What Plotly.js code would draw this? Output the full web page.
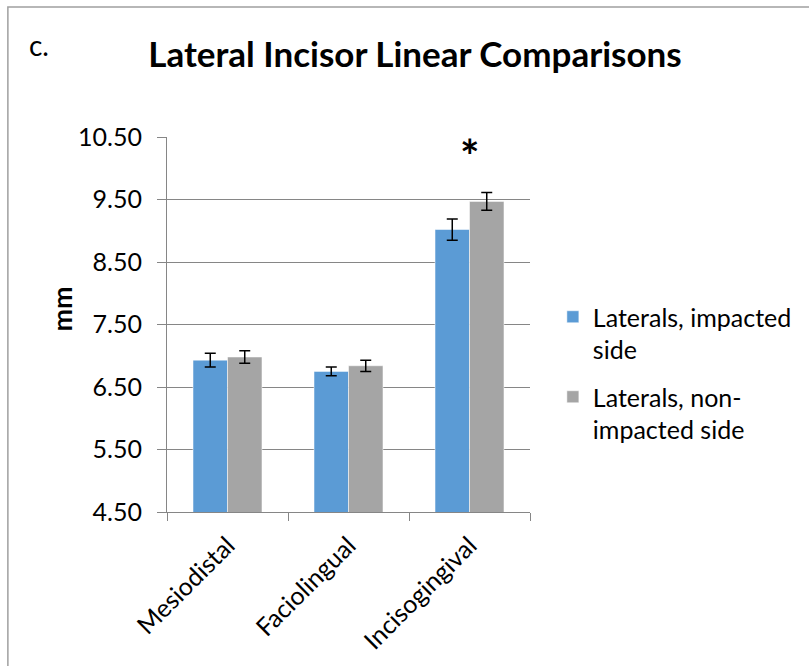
<!DOCTYPE html>
<html>
<head>
<meta charset="utf-8">
<script src="https://cdn.plot.ly/plotly-3.0.1.min.js"></script>
<style>html,body{margin:0;padding:0;background:#fff;}#chart{width:809px;height:666px;}</style>
</head>
<body>
<div id="chart"></div>
<script>
var categories = ["Mesiodistal", "Faciolingual", "Incisogingival"];
var impactedValues = [6.93, 6.75, 9.02];
var impactedErrors = [0.11, 0.07, 0.17];
var nonImpactedValues = [6.98, 6.84, 9.47];
var nonImpactedErrors = [0.10, 0.09, 0.14];
var seriesNames = ["Laterals, impacted<br>side", "Laterals, non-<br>impacted side"];
var yTicks = [4.5, 5.5, 6.5, 7.5, 8.5, 9.5, 10.5];
var significantCategory = "Incisogingival";
var significanceY = 10.2;

var FONT = "Lato, 'Open Sans', sans-serif";
var W = 809, H = 666, L = 167, R = 277, T = 137, B = 154;
var pw = W - L - R, ph = H - T - B;
function px(x) { return (x - L) / pw; }
function py(y) { return (H - B - y) / ph; }

var errStyle = {type: "data", visible: true, color: "#000", thickness: 1.5, width: 5.5};

var traces = [
  {type: "bar", name: seriesNames[0], legendgroup: "a", x: categories, y: impactedValues,
   marker: {color: "#5B9BD5", line: {color: "rgba(255,255,255,0.5)", width: 1}},
   error_y: Object.assign({array: impactedErrors}, errStyle)},
  {type: "bar", name: seriesNames[1], legendgroup: "b", x: categories, y: nonImpactedValues,
   marker: {color: "#A5A5A5", line: {color: "rgba(255,255,255,0.5)", width: 1}},
   error_y: Object.assign({array: nonImpactedErrors}, errStyle)}
];

var layout = {
  width: W, height: H,
  margin: {l: L, r: R, t: T, b: B, pad: 0},
  paper_bgcolor: "#fff", plot_bgcolor: "#fff",
  font: {family: FONT, color: "#000", size: 24},
  title: {text: "<b>Lateral Incisor Linear Comparisons</b>", x: 415 / W, xanchor: "center",
          y: 1 - 55 / H, yanchor: "middle", font: {family: FONT, size: 35, color: "#000"}},
  barmode: "group", bargap: 0.43, bargroupgap: 0,
  showlegend: true,
  legend: {x: px(555), xanchor: "left", y: py(294), yanchor: "top", valign: "top",
           font: {family: FONT, size: 25, color: "#000"}, tracegroupgap: 12,
           bgcolor: "rgba(0,0,0,0)"},
  xaxis: {type: "category", showgrid: false, showline: true, linecolor: "#868686", linewidth: 1,
          ticks: "outside", ticklen: 8, tickcolor: "#868686", tickson: "boundaries",
          tickangle: -45, tickfont: {family: FONT, size: 25, color: "#000"}, zeroline: false,
          ticklabelstandoff: 8},
  yaxis: {range: [4.5, 10.5], tickvals: yTicks, tickformat: ".2f", showgrid: true,
          gridcolor: "#868686", gridwidth: 1, showline: true, linecolor: "#868686", linewidth: 1,
          ticks: "outside", ticklen: 9, tickcolor: "#868686", zeroline: false,
          tickfont: {family: FONT, size: 25, color: "#000"}, ticklabelstandoff: 10},
  annotations: [
    {text: "<b>mm</b>", xref: "paper", yref: "paper", x: px(60), y: py(309), xanchor: "center",
     yanchor: "middle", textangle: -90, showarrow: false, font: {family: FONT, size: 27, color: "#000"}},
    {text: "c.", xref: "paper", yref: "paper", x: px(26), y: py(45), xanchor: "left",
     yanchor: "middle", showarrow: false, font: {family: FONT, size: 28, color: "#000"}},
    {text: "<b>*</b>", xref: "x", yref: "y", x: significantCategory, y: significanceY,
     xanchor: "center", yanchor: "middle", showarrow: false, font: {family: FONT, size: 46, color: "#000"}}
  ],
  shapes: [
    {type: "rect", xref: "paper", yref: "paper", x0: px(7), x1: px(W + 20), y0: py(H + 20), y1: py(7),
     line: {color: "#a0a0a0", width: 1.5}, fillcolor: "rgba(0,0,0,0)", layer: "below"}
  ]
};

Plotly.newPlot("chart", traces, layout, {displayModeBar: false, staticPlot: true});
</script>
</body>
</html>
